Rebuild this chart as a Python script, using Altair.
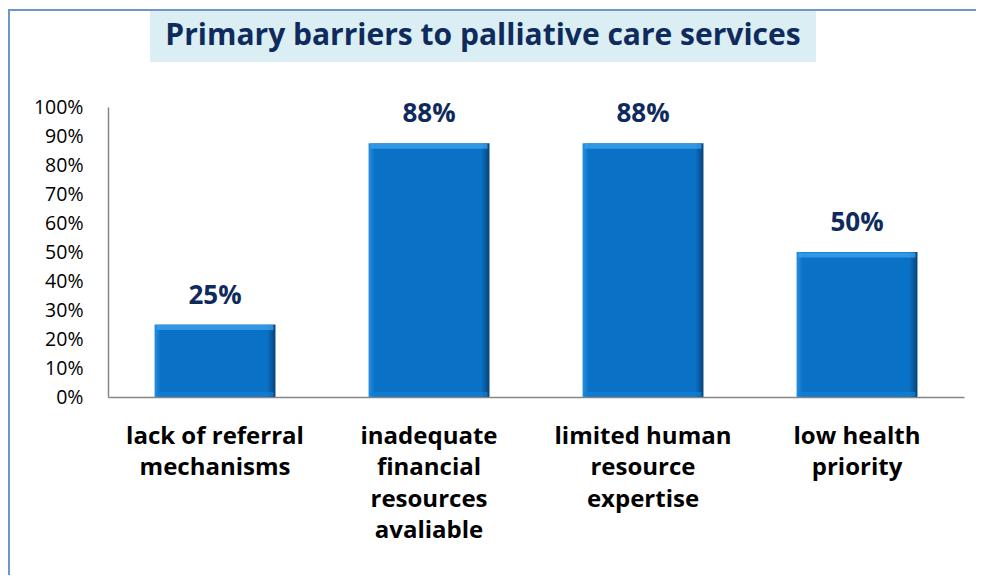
import altair as alt
import pandas as pd

categories = [
    "lack of referral|mechanisms",
    "inadequate|financial|resources|avaliable",
    "limited human|resource|expertise",
    "low health|priority",
]
values = [0.25, 0.875, 0.875, 0.50]
labels = ["25%", "88%", "88%", "50%"]
y_ticks = [0.0, 0.1, 0.2, 0.3, 0.4, 0.5, 0.6, 0.7, 0.8, 0.9, 1.0]
title_text = "Primary barriers to palliative care services"

df = pd.DataFrame({"cat": categories, "val": values, "lab": labels, "zero": [0.0] * 4})
one = pd.DataFrame({"t": [title_text]})

FONT = "Open Sans"
W, H = 856, 290

x_enc = alt.X(
    "cat:N",
    sort=None,
    scale=alt.Scale(paddingInner=0.435, paddingOuter=0.2175),
    axis=alt.Axis(
        title=None,
        labelAngle=0,
        labelExpr="split(datum.label, '|')",
        labelFont=FONT,
        labelFontSize=24,
        labelFontWeight="bold",
        labelColor="#000000",
        labelLineHeight=31.5,
        labelPadding=27,
        labelLimit=300,
        ticks=False,
        domainColor="#868686",
        domainWidth=1.5,
        grid=False,
        zindex=1,
    ),
)

y_axis = alt.Axis(
    title=None,
    format=".0%",
    values=y_ticks,
    tickCount=11,
    labelOverlap=False,
    labelFont=FONT,
    labelFontSize=19.5,
    labelColor="#000000",
    labelPadding=25,
    ticks=False,
    domainColor="#868686",
    domainWidth=1.5,
    grid=False,
    zindex=1,
)


def y_enc(field):
    return alt.Y(field, type="quantitative", scale=alt.Scale(domain=[0, 1]), axis=y_axis)


border = alt.Chart(one).mark_rect(
    filled=False, stroke="#6F96CC", strokeWidth=2
).encode(
    x=alt.value(-99), x2=alt.value(890), y=alt.value(-97), y2=alt.value(500)
)

title_bg = alt.Chart(one).mark_rect(fill="#DAEEF3").encode(
    x=alt.value(42), x2=alt.value(708), y=alt.value(-96), y2=alt.value(-45)
)
title = alt.Chart(one).mark_text(
    font=FONT, fontSize=30, fontWeight="bold", color="#0F2A5C",
    align="center", baseline="middle",
).encode(x=alt.value(375), y=alt.value(-71), text="t:N")

grad = alt.LinearGradient(
    gradient="linear", x1=0, x2=1, y1=0, y2=0,
    stops=[
        alt.GradientStop(offset=0, color="#2A8FE0"),
        alt.GradientStop(offset=0.05, color="#0A72C6"),
        alt.GradientStop(offset=0.93, color="#0A72C6"),
        alt.GradientStop(offset=0.97, color="#08599E"),
        alt.GradientStop(offset=1, color="#063F72"),
    ],
)

bars = alt.Chart(df).mark_bar(fill=grad).encode(x=x_enc, y=y_enc("val"))
bevel_top = alt.Chart(df).mark_tick(
    orient="horizontal", thickness=5, size=117, color="#3FA6F0", yOffset=3
).encode(x=x_enc, y=y_enc("val"))
bevel_bot = alt.Chart(df).mark_tick(
    orient="horizontal", thickness=4, size=117, color="#1180D6", yOffset=-3
).encode(x=x_enc, y=y_enc("zero"))
text = alt.Chart(df).mark_text(
    font=FONT, fontSize=26, fontWeight="bold", color="#0F2A5C",
    baseline="alphabetic", dy=-21,
).encode(x=x_enc, y=y_enc("val"), text="lab:N")

chart = alt.layer(border, title_bg, title, bars, bevel_top, bevel_bot, text).properties(
    width=W, height=H,
    autosize=alt.AutoSizeParams(type="none"),
    padding={"left": 100, "top": 99, "right": 12, "bottom": 178},
).configure(background="white").configure_view(stroke=None)

chart.save("out.html", embed_options={"renderer": "svg", "actions": False})
